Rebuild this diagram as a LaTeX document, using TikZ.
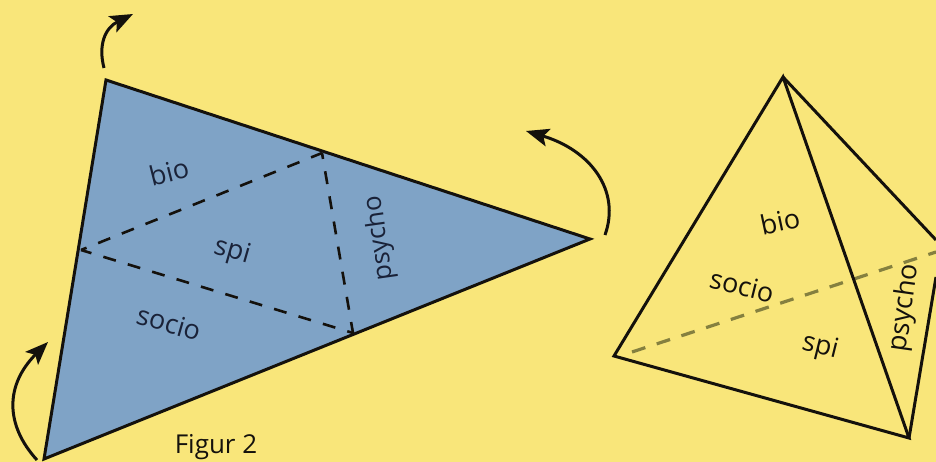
\documentclass[tikz,border=0pt]{standalone}
\usepackage{fontspec}
\setmainfont{Open Sans}
\usetikzlibrary{arrows.meta}
\definecolor{bgc}{HTML}{F9E67A}
\definecolor{fillc}{HTML}{7FA3C6}
\definecolor{inkc}{HTML}{14110C}
\definecolor{labc}{HTML}{1A2238}
\definecolor{dashc}{HTML}{85803F}
\tikzset{x=1pt,y=-1pt,
 edge/.style={draw=inkc,line width=3pt,line join=miter},
 fold/.style={draw=inkc,line width=2.6pt,dash pattern=on 13pt off 12.5pt,dash phase=7pt},
 hidden/.style={draw=dashc,line width=3.2pt,dash pattern=on 14pt off 12pt},
 turn/.style={draw=inkc,line width=3pt,-{Stealth[length=23pt,width=18pt,inset=5pt]}},
 lab/.style={font=\fontsize{27}{30}\selectfont,text=labc,inner sep=0pt},
 labr/.style={font=\fontsize{27}{30}\selectfont,text=inkc,inner sep=0pt}}
\begin{document}
\begin{tikzpicture}
\useasboundingbox (0,0) rectangle (936,462);
\fill[bgc] (0,0) rectangle (936,462);
\coordinate (A) at (106,80);
\coordinate (B) at (590,239);
\coordinate (C) at (44,459);
\coordinate (P) at (322,153);
\coordinate (Q) at (353,333);
\coordinate (R) at (81,250);
\fill[fillc] (A)--(B)--(C)--cycle;
\draw[edge] (A)--(B)--(C)--cycle;
\draw[fold] (R)--(P);
\draw[fold] (P)--(Q);
\draw[fold] (Q)--(R);
\coordinate (A0) at (104,68);
\coordinate (A1) at (133,14);
\draw[turn] (A0) .. controls (98,45) and (105,28) .. (A1);
\coordinate (B0) at (605,235);
\coordinate (B1) at (526,131);
\draw[turn] (B0) .. controls (621,190) and (590,150) .. (B1);
\coordinate (C0) at (37,460);
\coordinate (C1) at (48,342);
\draw[turn] (C0) .. controls (5,425) and (5,385) .. (C1);
\node[lab,rotate=14] (n1) at (169,172) {bio};
\node[lab,rotate=-16] (n2) at (232,252) {spi};
\node[lab,rotate=-16] (n3) at (169,323) {socio};
\node[lab,rotate=98,font=\fontsize{26}{29}\selectfont] (n4) at (380,238) {psycho};
\node[labr,font=\fontsize{26}{29}\selectfont] (n5) at (216,447) {Figur 2};
\coordinate (T) at (783,77);
\coordinate (L) at (614,356);
\coordinate (F) at (909,438);
\coordinate (E) at (936,240);
\coordinate (E2) at (936,252);
\coordinate (E3) at (936,277);
\coordinate (L2) at (632,352);
\draw[hidden] (L2)--(E2);
\draw[edge] (T)--(L)--(F)--cycle;
\draw[edge] (T)--(E);
\draw[edge] (F)--(E3);
\node[labr,rotate=12] (n6) at (780,221) {bio};
\node[labr,rotate=-14] (n7) at (742,286) {socio};
\node[labr,rotate=-14] (n8) at (820,347) {spi};
\node[labr,rotate=82] (n9) at (905,308) {psycho};
\end{tikzpicture}
\end{document}
